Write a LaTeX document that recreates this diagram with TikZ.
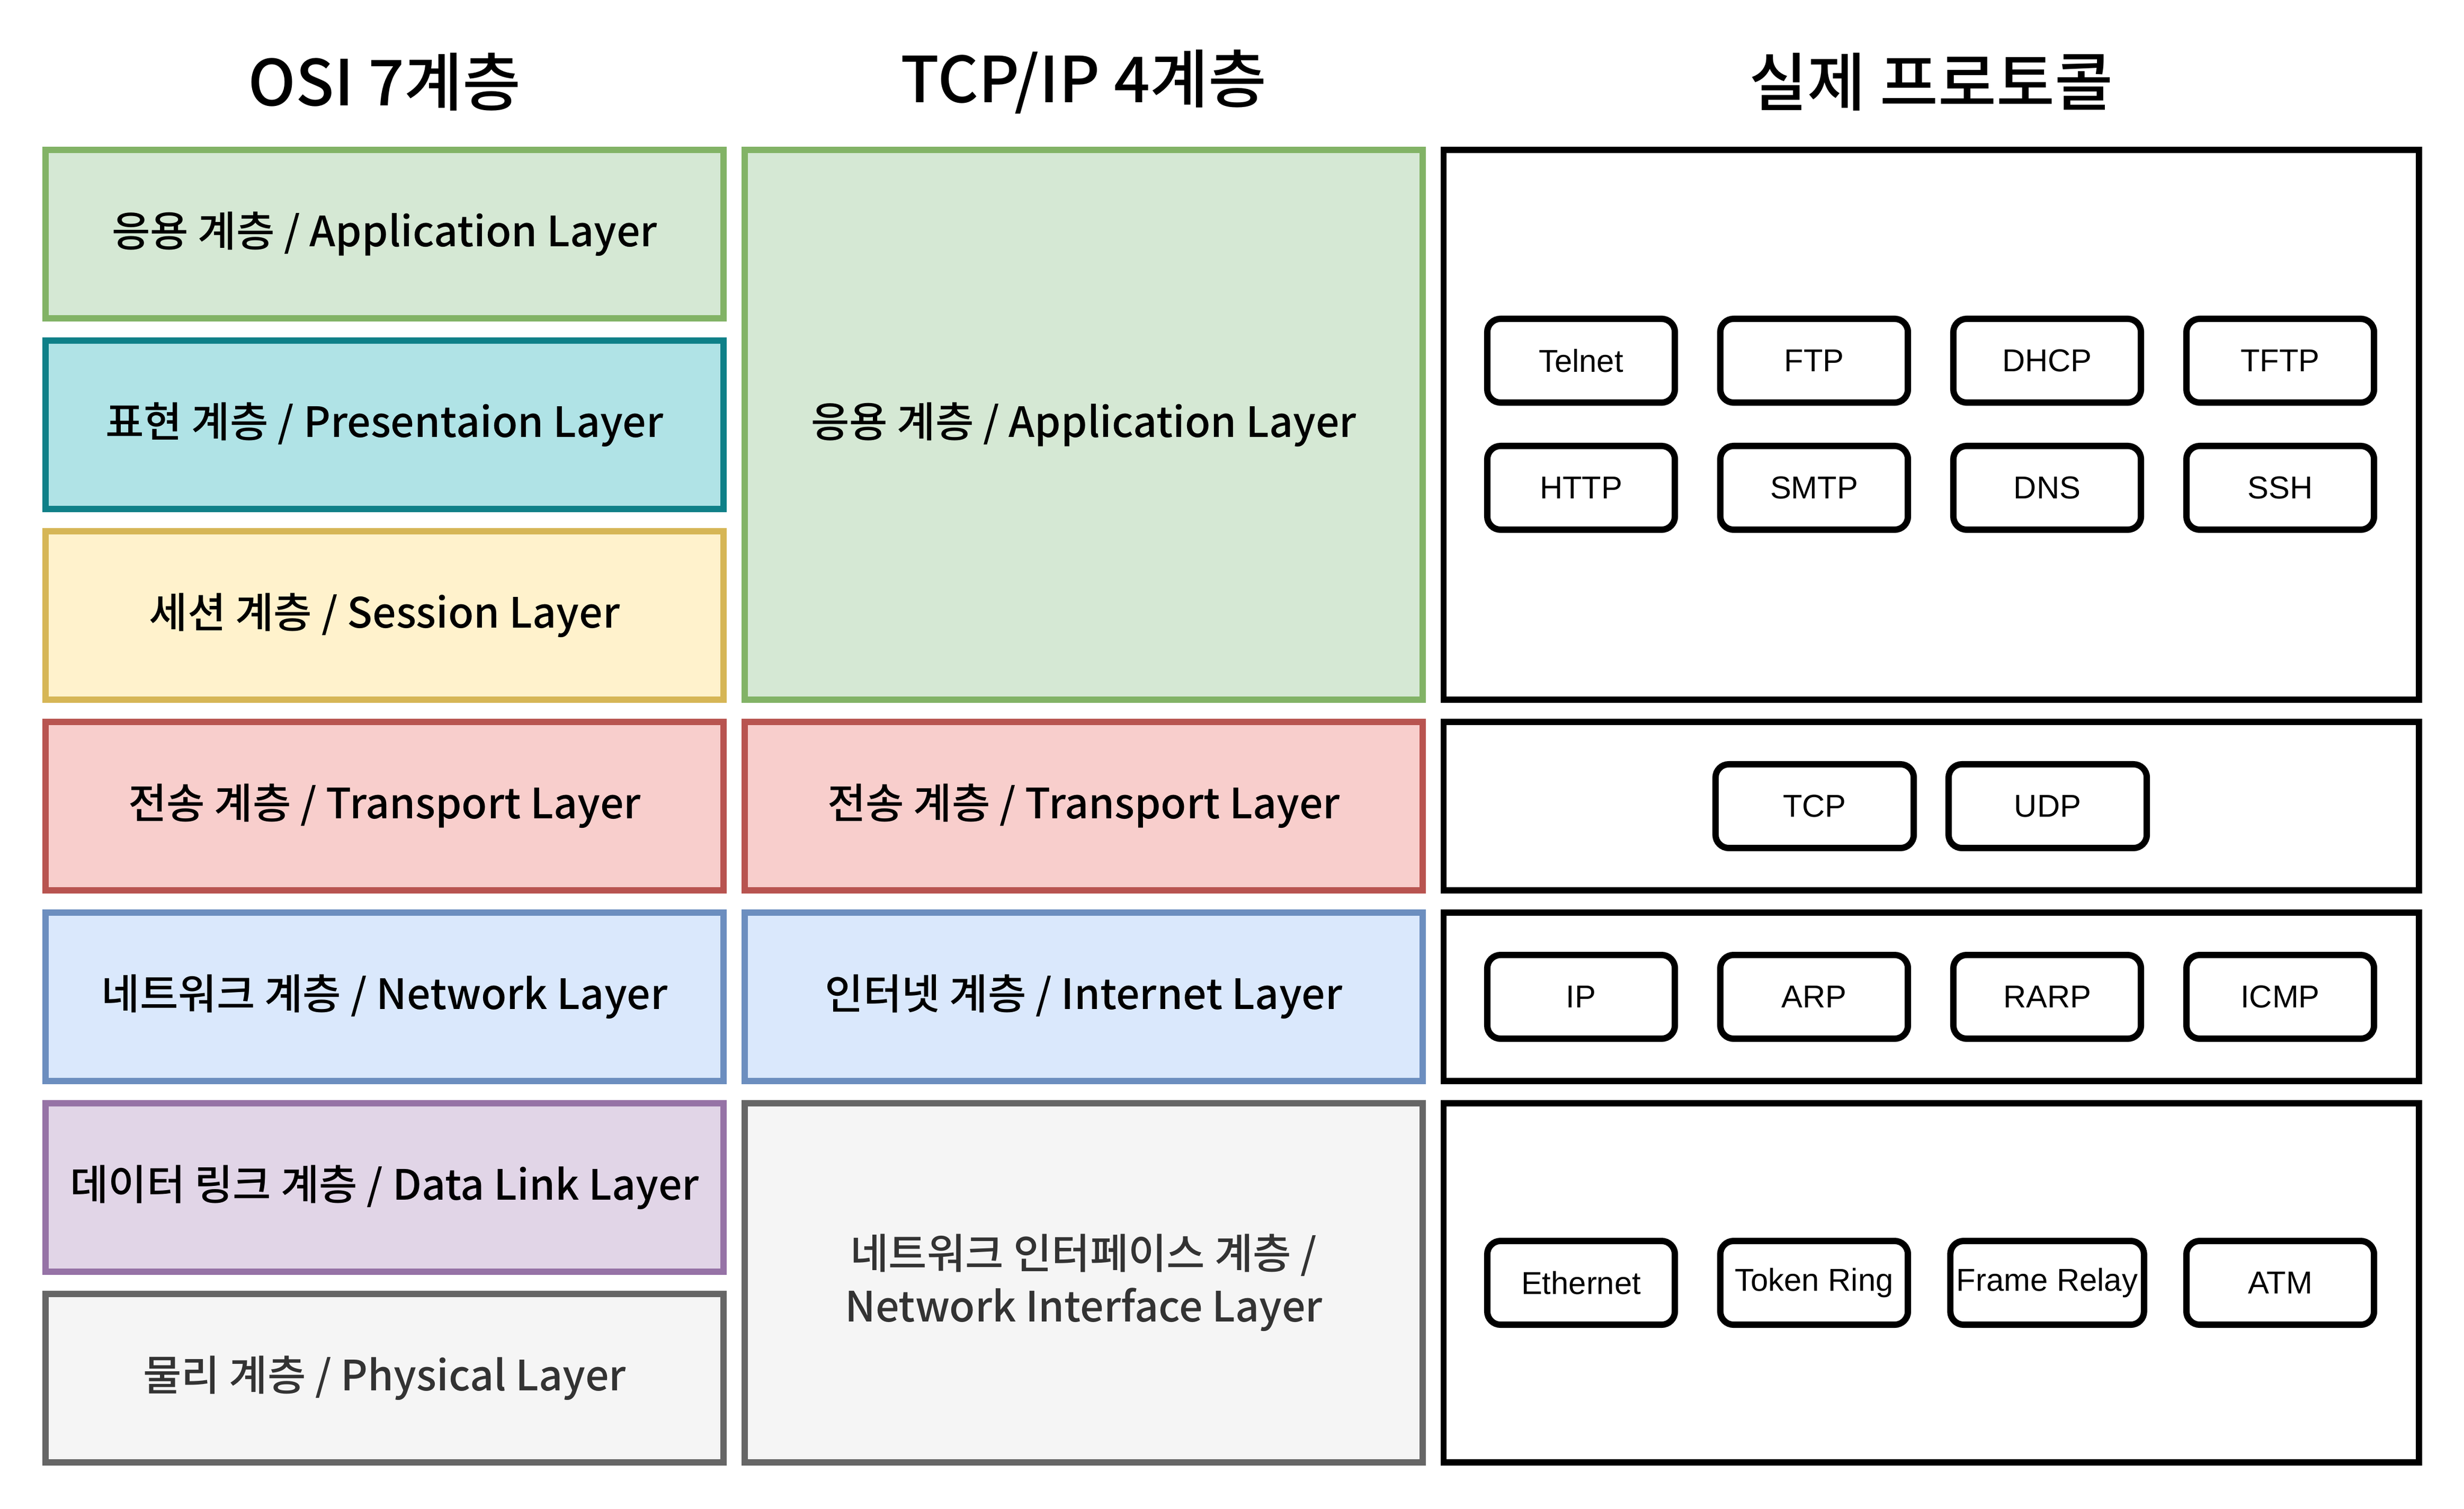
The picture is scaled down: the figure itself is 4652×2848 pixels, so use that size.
\documentclass[tikz,border=0pt]{standalone}
\usepackage{fontspec}
\setmainfont{Noto Sans CJK KR}
\IfFontExistsTF{Noto Sans CJK KR Medium}
  {\newfontfamily\midfont{Noto Sans CJK KR Medium}}
  {\newfontfamily\midfont{Noto Sans CJK KR}[FakeBold=0.6]}
\newfontfamily\protofont{Liberation Sans}

\definecolor{appfill}{HTML}{D5E8D4}   \definecolor{appline}{HTML}{82B366}
\definecolor{prefill}{HTML}{B0E3E6}   \definecolor{preline}{HTML}{0E8088}
\definecolor{sesfill}{HTML}{FFF2CC}   \definecolor{sesline}{HTML}{D6B656}
\definecolor{trafill}{HTML}{F8CECC}   \definecolor{traline}{HTML}{B85450}
\definecolor{netfill}{HTML}{DAE8FC}   \definecolor{netline}{HTML}{6C8EBF}
\definecolor{dlkfill}{HTML}{E1D5E7}   \definecolor{dlkline}{HTML}{9673A6}
\definecolor{phyfill}{HTML}{F5F5F5}   \definecolor{phyline}{HTML}{666666}
\definecolor{phytext}{HTML}{333333}

\begin{document}
\begin{tikzpicture}[
                x=0.01cm,y=-0.01cm,
                line width=3.4pt,
                title/.style={font=\midfont\fontsize{34}{40}\selectfont},
                layer/.style={draw,rectangle,align=center,minimum width=12.79cm,minimum height=3.18cm,
                              font=\midfont\fontsize{22.4}{28.5}\selectfont,text=black},
                proto/.style={draw,rectangle,minimum width=18.40cm,minimum height=3.18cm},
                pbox/.style={draw,rounded corners=0.25cm,minimum width=3.54cm,minimum height=1.58cm,
                             font=\protofont\fontsize{17}{20}\selectfont},
                pwide/.style={pbox,minimum width=3.74cm}] %

\fill[white] (0,0) rectangle (4652,2848);
\useasboundingbox (0,0) rectangle (4652,2848);

% titles
\node[title] (T1) at (726,155) {OSI 7계층};
\node[title] (T2) at (2046,155) {TCP/IP 4계층};
\node[title] (T3) at (3646,155) {실제 프로토콜};

                    % OSI 7
                    \node[layer,fill=appfill,draw=appline] (OSI7) at (726,442) {응용 계층 / Application Layer};
                    \node[layer,fill=prefill,draw=preline] (OSI6) at (726,802) {표현 계층 / Presentaion Layer};
                    \node[layer,fill=sesfill,draw=sesline] (OSI5) at (726,1162) {세션 계층 / Session Layer};
                    \node[layer,fill=trafill,draw=traline] (OSI4) at (726,1522) {전송 계층 / Transport Layer};
                    \node[layer,fill=netfill,draw=netline] (OSI3) at (726,1882) {네트워크 계층 / Network Layer};
                    \node[layer,fill=dlkfill,draw=dlkline] (OSI2) at (726,2242) {데이터 링크 계층 / Data Link Layer};
                    \node[layer,fill=phyfill,draw=phyline,text=phytext] (OSI1) at (726,2602) {물리 계층 / Physical Layer};

%%%%%%%%%%%%%%%%%%%%%%%%%%%%%%%%%%%%%%%%%%%%%%%%%%%%%%%%%%%%%%%%%%%%%%%%%%%%%%%%%%%%

                    % TCP/IP 4
                    \node[layer,fill=appfill,draw=appline,minimum height=10.38cm] (TCP4) at (2046,802) {응용 계층 / Application Layer};
                    \node[layer,fill=trafill,draw=traline] (TCP3) at (2046,1522) {전송 계층 / Transport Layer};
                    \node[layer,fill=netfill,draw=netline] (TCP2) at (2046,1882) {인터넷 계층 / Internet Layer};
                    \node[layer,fill=phyfill,draw=phyline,text=phytext,minimum height=6.78cm] (TCP1) at (2046,2422) {네트워크 인터페이스 계층 /\\Network Interface Layer};

%%%%%%%%%%%%%%%%%%%%%%%%%%%%%%%%%%%%%%%%%%%%%%%%%%%%%%%%%%%%%%%%%%%%%%%%%%%%%%%%%%%%

                    % protocols
                    \node[proto,minimum height=10.38cm] (PAPP) at (3646,802) {};
                    \node[proto] (PTRA) at (3646,1522) {};
                    \node[proto] (PNET) at (3646,1882) {};
                    \node[proto,minimum height=6.78cm] (PLNK) at (3646,2422) {};

                    % 1
                    \node[pbox] (TELNET) at (2985,681) {Telnet};
                    \node[pbox] (FTP) at (3425,681) {FTP};
                    \node[pbox] (DHCP) at (3865,681) {DHCP};
                    \node[pbox] (TFTP) at (4305,681) {TFTP};
                    \node[pbox] (HTTP) at (2985,921) {HTTP};
                    \node[pbox] (SMTP) at (3425,921) {SMTP};
                    \node[pbox] (DNS) at (3865,921) {DNS};
                    \node[pbox] (SSH) at (4305,921) {SSH};

                    % 2
                    \node[pwide] (TCP) at (3426,1522) {TCP};
                    \node[pwide] (UDP) at (3866,1522) {UDP};

                    % 3
                    \node[pbox] (IP) at (2985,1882) {IP};
                    \node[pbox] (ARP) at (3425,1882) {ARP};
                    \node[pbox] (RARP) at (3865,1882) {RARP};
                    \node[pbox] (ICMP) at (4305,1882) {ICMP};

                    % 4
                    \node[pbox] (ETH) at (2985,2422) {Ethernet};
                    \node[pbox] (TOKEN) at (3425,2422) {Token Ring};
                    \node[pbox] (FRAME) at (3865,2422) {Frame Relay};
                    \node[pbox] (ATM) at (4305,2422) {ATM};

\end{tikzpicture}
\end{document}
